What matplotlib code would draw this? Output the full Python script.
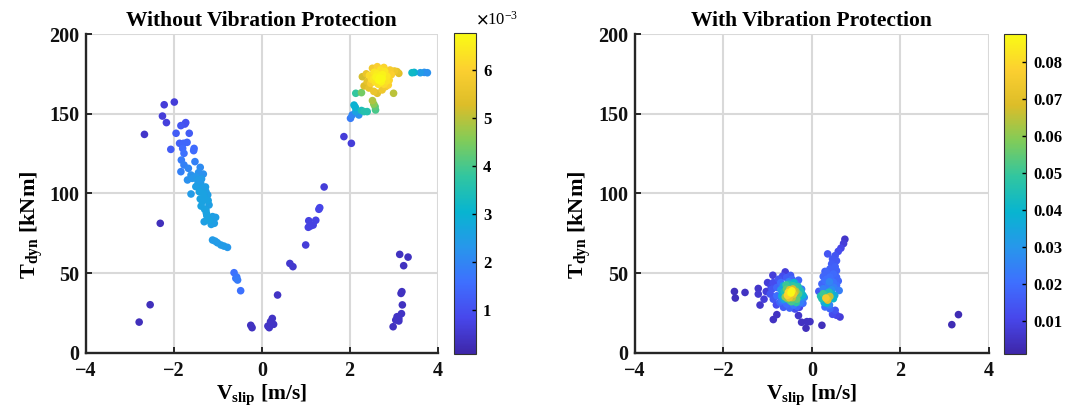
import numpy as np
import matplotlib
matplotlib.use('Agg')
import matplotlib.pyplot as plt
from matplotlib.colors import LinearSegmentedColormap, Normalize
from matplotlib.ticker import FuncFormatter

# ---------------- data: Without Vibration Protection ----------------
# (x = V_slip [m/s], y = T_dyn [kNm], c = point density)
wo_x = [-2.67, -2.22, -1.99, -2.26, -2.17, -2.31, -2.54, -2.79, -0.25, -0.22,
        0.24, 0.20, 0.17, 0.27, 0.14, 0.36, 0.64, 0.71, 1.00,
        1.06, 1.11, 1.23, 1.07, 1.17, 1.30, 1.32, 1.42, 1.87, 2.04,
        3.14, 3.33, 3.23, 3.17, 3.19, 3.20, 3.18, 3.08, 3.05, 3.12, 2.99, 3.12,
        -0.63, -0.59, -0.57, -0.55, -0.48,
        -1.84, -1.73, -1.75, -1.95, -1.65, -1.87, -1.78, -1.70, -2.07, -1.80,
        -1.77, -1.54, -1.55, -1.83, -1.77, -1.52, -1.67, -1.40, -1.84, -1.33,
        -1.61, -1.58, -1.46, -1.69, -1.39, -1.35, -1.50, -1.27, -1.61, -1.42,
        -1.23, -1.31, -1.35, -1.40, -1.20, -1.30, -1.27, -1.25, -1.12, -1.05,
        -1.23, -1.08, -1.31, -1.18, -1.15, -1.12, -1.01, -0.93, -0.86, -0.78,
        -1.06, -1.44, -1.50, -1.37, -1.28, -1.45, -1.33, -1.22, -1.38, -1.26,
        2.02, 2.06, 2.21, 2.14, 2.10, 2.13, 2.33, 2.40, 2.27, 2.59, 2.58, 2.55,
        2.52, 2.14, 2.27,
        2.29, 2.33, 2.40, 2.44, 2.55, 2.63, 2.74, 2.82, 3.00, 2.52, 2.63, 2.78,
        2.92, 3.02, 3.08, 3.12,
        2.45, 2.55, 2.62, 2.68, 2.72, 2.75, 2.85, 2.90, 2.65, 2.58, 2.80, 2.70,
        2.48, 2.95, 2.78, 2.38, 2.60, 2.66, 2.74, 2.84, 2.56, 2.70, 2.88, 2.50,
        3.42, 3.47, 3.61, 3.70, 3.77]
wo_y = [137.0, 155.6, 157.3, 148.5, 144.4, 81.2, 30.1, 19.2, 17.2, 15.7,
        21.5, 19.5, 15.7, 17.8, 16.7, 36.2, 56.0, 54.0, 67.6,
        78.7, 79.5, 83.1, 82.8, 80.1, 90.0, 91.0, 104.0, 135.6, 131.4,
        61.7, 60.0, 54.6, 37.2, 38.3, 30.0, 24.5, 22.6, 20.5, 19.9, 16.3, 21.5,
        50.2, 46.7, 47.5, 45.6, 38.9,
        142.5, 144.4, 143.5, 137.7, 137.7, 131.4, 131.4, 132.0, 127.6, 128.2,
        125.1, 128.2, 126.8, 120.9, 117.8, 119.9, 115.7, 116.3, 113.6, 112.1,
        111.5, 109.4, 108.4, 108.4, 106.3, 103.8, 104.2, 101.0, 99.6, 101.0,
        99.0, 97.9, 94.8, 96.5, 92.7, 90.0, 89.5, 86.0, 85.4, 84.9,
        83.3, 81.2, 82.2, 83.0, 80.5, 70.7, 69.0, 67.6, 66.9, 66.1,
        70.0, 113.0, 110.5, 109.0, 104.0, 106.0, 100.0, 95.5, 92.0, 87.5,
        147.1, 149.2, 149.2, 151.3, 155.4, 154.0, 151.3, 151.3, 152.0, 152.3, 154.4, 156.0,
        158.2, 162.8, 163.2,
        173.2, 167.4, 170.1, 166.1, 164.0, 162.8, 164.9, 167.0, 162.8, 178.5, 179.5, 179.0,
        177.4, 176.8, 176.4, 175.3,
        174.0, 172.0, 175.0, 172.5, 170.0, 174.5, 173.5, 171.0, 168.5, 170.0, 176.5, 177.5,
        169.0, 174.5, 168.5, 175.0, 173.0, 171.0, 172.0, 170.5, 176.0, 174.0, 168.0, 171.5,
        175.7, 175.9, 175.7, 175.9, 175.7]
wo_c_e3 = [0.45, 0.6, 0.6, 0.6, 0.65, 0.3, 0.3, 0.3, 0.35, 0.35,
           0.4, 0.4, 0.4, 0.4, 0.4, 0.4, 0.5, 0.5, 0.6,
           0.7, 0.7, 0.75, 0.7, 0.7, 0.8, 0.8, 0.6, 0.6, 0.6,
           0.35, 0.35, 0.35, 0.35, 0.35, 0.35, 0.4, 0.4, 0.4, 0.4, 0.35, 0.4,
           1.6, 1.7, 1.7, 1.8, 1.6,
           1.1, 1.0, 1.0, 1.2, 1.2, 1.3, 1.4, 1.4, 1.2, 1.5,
           1.6, 1.5, 1.5, 1.8, 1.9, 1.9, 2.0, 2.1, 1.9, 2.2,
           2.2, 2.3, 2.4, 2.2, 2.4, 2.5, 2.5, 2.5, 2.4, 2.6,
           2.5, 2.6, 2.6, 2.6, 2.5, 2.6, 2.6, 2.6, 2.5, 2.5,
           2.6, 2.5, 2.5, 2.6, 2.5, 2.4, 2.4, 2.4, 2.4, 2.3,
           2.4, 2.2, 2.3, 2.4, 2.5, 2.4, 2.6, 2.6, 2.6, 2.6,
           1.8, 2.0, 2.2, 2.6, 3.0, 3.0, 3.6, 3.6, 3.4, 4.0, 4.2, 4.6,
           4.9, 3.8, 4.4,
           5.2, 5.3, 5.5, 5.5, 5.6, 5.4, 5.7, 5.8, 5.0, 5.8, 6.0, 6.1,
           5.9, 5.7, 5.5, 5.4,
           6.2, 6.4, 6.5, 6.7, 6.6, 6.6, 6.4, 6.1, 6.3, 6.3, 6.4, 6.3,
           5.9, 6.0, 6.2, 5.6, 6.6, 6.7, 6.7, 6.3, 6.4, 6.6, 6.0, 6.2,
           3.2, 3.0, 2.4, 2.2, 2.2]

# ---------------- data: With Vibration Protection ----------------
wi_x = [-1.75, -1.73, -1.51, -1.21, -1.03, -1.00, -0.88, -0.60, -1.21, -1.08,
        -1.17, -0.79, -0.87, -0.30, -0.23, -0.11, -0.04, -0.13, -0.28, -0.38,
        3.32, 3.17, 0.23,
        -0.87, -0.75, -0.57, -0.45, -0.34, -0.23, -0.17, -0.26, -0.41, -0.57,
        -0.72, -0.87, -0.94, -0.90, -0.79, -0.68, -0.79, -0.70, -0.52,
        -0.83, -0.66, -0.48, -0.30, -0.20, -0.33, -0.50, -0.64, -0.80, -0.92,
        -0.64, -0.38, -0.30, -0.34, -0.49, -0.66, -0.57, -0.20, -0.62, -0.42, -0.55,
        -0.60, -0.36, -0.26, -0.44, -0.70, -0.35, -0.58, -0.27, -0.40,
        -0.68, -0.24, -0.31, -0.63, -0.46, -0.52,
        -0.53, -0.45, -0.49, -0.41, -0.47, -0.50, -0.43, -0.55, -0.39, -0.51,
        0.75, 0.72, 0.66, 0.60, 0.53, 0.47, 0.56, 0.45, 0.53, 0.41, 0.56, 0.34,
        0.49, 0.26, 0.41, 0.56, 0.30, 0.49, 0.23, 0.38, 0.56, 0.26, 0.45, 0.62, 0.16,
        0.36, 0.47, 0.33, 0.50, 0.40, 0.60, 0.30,
        0.32, 0.41, 0.36, 0.23, 0.49, 0.34, 0.45, 0.26, 0.52, 0.20, 0.28, 0.39,
        0.30, 0.41, 0.53, 0.47, 0.56, 0.64, 0.40]
wi_y = [38.4, 34.3, 37.8, 40.3, 38.4, 44.0, 48.6, 50.7, 36.8, 33.6,
        29.9, 23.9, 20.8, 23.3, 19.1, 19.5, 19.5, 15.4, 28.5, 27.4,
        23.9, 17.6, 17.2,
        44.0, 46.1, 47.1, 46.1, 43.0, 39.9, 34.7, 31.6, 29.9, 30.5,
        31.6, 33.6, 36.8, 39.9, 40.9, 32.6, 35.7, 44.0, 44.5,
        42.0, 48.0, 48.5, 45.5, 31.0, 29.0, 28.0, 28.5, 30.0, 41.5,
        42.0, 40.9, 36.8, 33.6, 32.6, 36.8, 39.9, 36.1, 38.5, 42.0, 34.0,
        35.0, 38.5, 39.0, 34.5, 39.5, 31.5, 42.5, 35.0, 44.0,
        35.5, 38.0, 41.5, 33.5, 32.0, 43.0,
        37.8, 38.8, 36.8, 36.8, 37.5, 39.5, 40.0, 36.0, 38.0, 34.5,
        71.2, 68.5, 65.6, 63.6, 60.9, 58.8, 57.7, 55.7, 54.0, 52.5, 51.5, 50.5,
        49.4, 47.8, 47.4, 47.4, 45.3, 44.2, 43.2, 42.2, 42.2, 40.1, 39.5, 39.0, 38.5,
        62.0, 53.0, 46.0, 41.0, 44.5, 45.0, 51.0,
        34.3, 35.3, 33.0, 33.9, 33.9, 31.2, 37.0, 37.0, 36.0, 35.5, 31.5, 38.0,
        28.7, 27.6, 26.6, 24.1, 23.5, 22.4, 30.0]
wi_c = [0.004, 0.004, 0.005, 0.006, 0.008, 0.008, 0.008, 0.008, 0.007, 0.008,
        0.006, 0.005, 0.005, 0.006, 0.005, 0.005, 0.005, 0.004, 0.010, 0.012,
        0.003, 0.003, 0.004,
        0.012, 0.014, 0.016, 0.018, 0.022, 0.024, 0.026, 0.024, 0.022, 0.020,
        0.018, 0.015, 0.014, 0.014, 0.018, 0.022, 0.020, 0.020, 0.025,
        0.012, 0.012, 0.015, 0.018, 0.020, 0.018, 0.018, 0.016, 0.012, 0.010,
        0.035, 0.050, 0.052, 0.055, 0.050, 0.038, 0.055, 0.040, 0.045, 0.048, 0.058,
        0.060, 0.062, 0.045, 0.065, 0.030, 0.048, 0.050, 0.040, 0.040,
        0.036, 0.042, 0.046, 0.034, 0.052, 0.044,
        0.080, 0.085, 0.075, 0.072, 0.087, 0.070, 0.068, 0.078, 0.066, 0.072,
        0.006, 0.008, 0.010, 0.012, 0.014, 0.015, 0.015, 0.016, 0.017, 0.017, 0.017, 0.018,
        0.019, 0.018, 0.020, 0.018, 0.020, 0.021, 0.018, 0.022, 0.020, 0.024, 0.028, 0.024, 0.015,
        0.014, 0.016, 0.020, 0.024, 0.026, 0.018, 0.017,
        0.075, 0.065, 0.070, 0.045, 0.040, 0.040, 0.038, 0.050, 0.035, 0.045, 0.035, 0.045,
        0.020, 0.018, 0.014, 0.012, 0.010, 0.008, 0.025]

xticks = [-4, -2, 0, 2, 4]
yticks = [0, 50, 100, 150, 200]
cb1_ticks = [1e-3, 2e-3, 3e-3, 4e-3, 5e-3, 6e-3]
cb2_ticks = [0.01, 0.02, 0.03, 0.04, 0.05, 0.06, 0.07, 0.08]
titles = ['Without Vibration Protection', 'With Vibration Protection']

# parula-like colormap
parula = LinearSegmentedColormap.from_list('parula', [
    (0.2422, 0.1504, 0.6603), (0.2803, 0.2782, 0.9221), (0.2440, 0.4358, 0.9988),
    (0.1540, 0.5902, 0.9218), (0.0297, 0.7082, 0.8163), (0.1938, 0.7758, 0.6251),
    (0.5044, 0.7993, 0.3480), (0.8634, 0.7406, 0.1596), (0.9892, 0.8136, 0.1885),
    (0.9769, 0.9839, 0.0805)], N=256)

plt.rcParams['font.family'] = ['Liberation Serif', 'DejaVu Serif']
plt.rcParams['font.weight'] = 'bold'
plt.rcParams['axes.labelweight'] = 'bold'
plt.rcParams['axes.titleweight'] = 'bold'
plt.rcParams['mathtext.fontset'] = 'custom'
plt.rcParams['mathtext.rm'] = 'Liberation Serif:bold'
plt.rcParams['mathtext.it'] = 'Liberation Serif:bold'
plt.rcParams['mathtext.bf'] = 'Liberation Serif:bold'

W, H = 1077, 419
fig = plt.figure(figsize=(W / 100, H / 100), dpi=100)

def px_rect(x0, x1, ytop, ybot):
    return [x0 / W, (H - ybot) / H, (x1 - x0) / W, (ybot - ytop) / H]

ax1 = fig.add_axes(px_rect(86, 437.5, 34, 352.7))
ax2 = fig.add_axes(px_rect(635, 988.5, 34, 352.7))
cax1 = fig.add_axes(px_rect(454, 476, 33.5, 354))
cax2 = fig.add_axes(px_rect(1004, 1026, 34, 354))

def draw(ax, cax, xs, ys, cs, vmin, vmax, cticks, fmt, title):
    xs, ys, cs = np.asarray(xs), np.asarray(ys), np.asarray(cs)
    order = np.argsort(cs, kind='stable')
    norm = Normalize(vmin=vmin, vmax=vmax)
    sc = ax.scatter(xs[order], ys[order], c=cs[order], cmap=parula, norm=norm,
                    s=30, linewidths=0, zorder=3)
    ax.set_xlim(-4, 4)
    ax.set_ylim(0, 200)
    ax.set_xticks(xticks)
    ax.set_yticks(yticks)
    ax.grid(True, color='#d9d9d9', linewidth=1.5, zorder=0)
    ax.set_axisbelow(True)
    for s in ['top', 'right']:
        ax.spines[s].set_visible(False)
    for s in ['left', 'bottom']:
        ax.spines[s].set_linewidth(1.7)
        ax.spines[s].set_color('#262626')
    ax.tick_params(direction='in', length=4, width=1.4, labelsize=14.5,
                   colors='#262626', labelcolor='#111111')
    ax.tick_params(axis='x', pad=6)
    ax.tick_params(axis='y', pad=5)
    ax.set_title(title, fontsize=15.5, fontweight='bold', pad=6)
    ax.set_xlabel(r'$\mathrm{V_{slip}}$ [m/s]', fontsize=15.5, fontweight='bold', labelpad=1)
    ax.set_ylabel(r'$\mathrm{T_{dyn}}$ [kNm]', fontsize=16, fontweight='bold')
    ax.yaxis.set_label_coords(-0.118, 0.40)
    cb = fig.colorbar(sc, cax=cax)
    cb.set_ticks(cticks)
    cb.ax.yaxis.set_major_formatter(FuncFormatter(fmt))
    cb.ax.tick_params(direction='in', length=3, width=1, labelsize=12, pad=5)
    cb.outline.set_linewidth(0.8)
    cb.outline.set_edgecolor('#333333')
    return sc

draw(ax1, cax1, wo_x, wo_y, np.asarray(wo_c_e3) * 1e-3, 0.07e-3, 6.77e-3,
     cb1_ticks, lambda v, p: f'{v * 1000:.0f}', titles[0])
draw(ax2, cax2, wi_x, wi_y, wi_c, 0.001, 0.0875,
     cb2_ticks, lambda v, p: f'{v:.2f}', titles[1])

fig.text(476 / W, 1 - 25 / H, r'$\times\mathregular{10^{-3}}$', fontsize=12,
         fontweight='normal', math_fontfamily='stix', ha='left', va='baseline')

fig.savefig('out.png', dpi=100)
